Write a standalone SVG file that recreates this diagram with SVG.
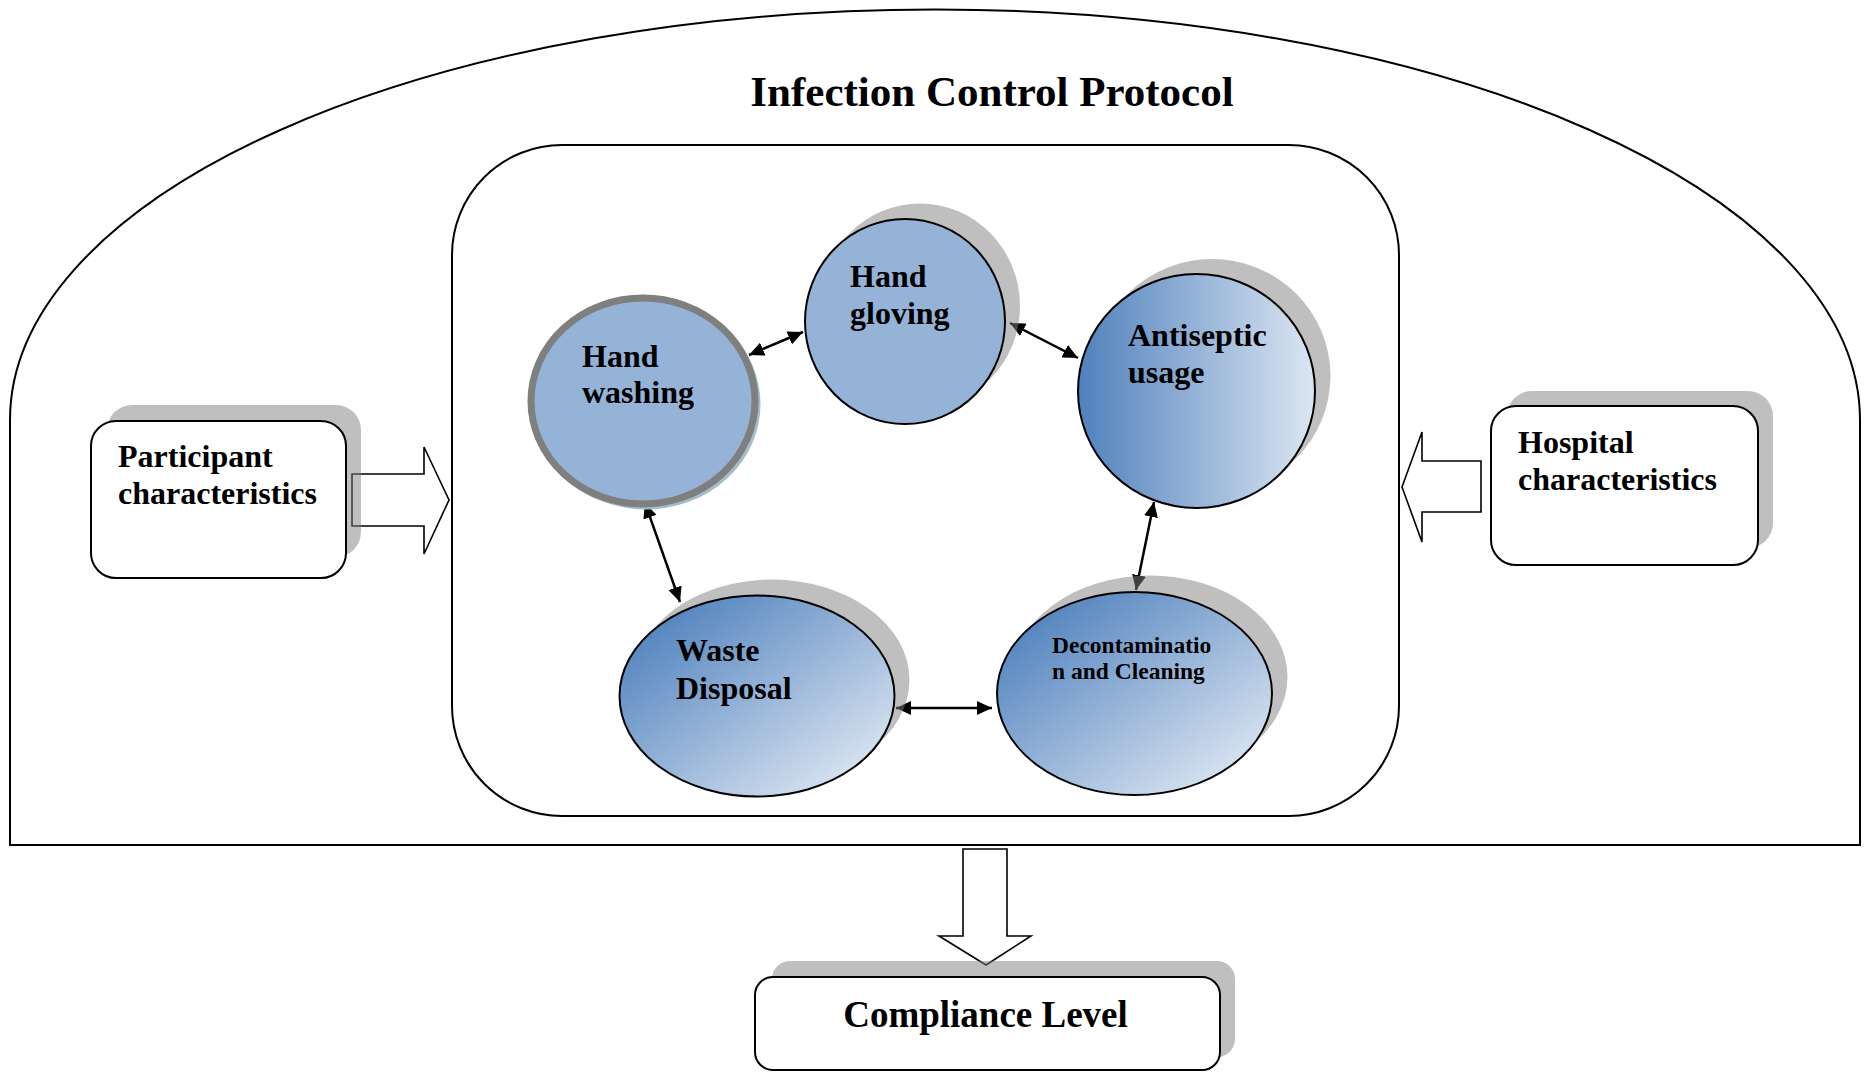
<svg xmlns="http://www.w3.org/2000/svg" width="1865" height="1072" viewBox="0 0 1865 1072">
  <defs>
    <linearGradient id="gradH" x1="0" y1="0" x2="1" y2="0">
      <stop offset="0" stop-color="#4F81BD"/>
      <stop offset="1" stop-color="#DCE6F2"/>
    </linearGradient>
    <linearGradient id="gradD" x1="0.1" y1="0.1" x2="0.9" y2="0.9">
      <stop offset="0" stop-color="#4F81BD"/>
      <stop offset="1" stop-color="#DCE6F2"/>
    </linearGradient>
    <marker id="head" markerUnits="userSpaceOnUse" markerWidth="16" markerHeight="14" refX="15" refY="7" orient="auto-start-reverse">
      <path d="M0,0 L15,7 L0,14 Z" fill="#000"/>
    </marker>
  </defs>
  <style>
    .lbl { font-family: "Liberation Serif", "Times New Roman", serif; font-weight: bold; fill: #000; }
    .shadow { fill: #808080; fill-opacity: 0.5; }
    .box { fill: #fff; stroke: #000; stroke-width: 2; }
    .bubble { stroke: #000; stroke-width: 2; }
    .link { stroke: #000; stroke-width: 2.5; fill: none; marker-start: url(#head); marker-end: url(#head); }
    .block { fill: #fff; stroke: #000; stroke-width: 1.6; stroke-linejoin: miter; }
  </style>

  <rect width="1865" height="1072" fill="#fff"/>

  <!-- outer protocol frame: arched top over a flat base -->
  <g id="protocol">
    <path d="M10,845 L10,420 A925,410.5 0 0 1 1860,420 L1860,845 Z" fill="none" stroke="#000" stroke-width="2"/>
    <text class="lbl" x="992" y="106" font-size="43" text-anchor="middle">Infection Control Protocol</text>
  </g>

  <!-- inner rounded panel holding the five practices -->
  <g id="practices-panel">
    <rect x="452" y="145" width="947" height="671" rx="110" ry="110" fill="none" stroke="#000" stroke-width="2"/>
  </g>

  <!-- block arrows feeding into / out of the protocol -->
  <g id="block-arrows">
    <polygon class="block" points="352,474 424,474 424,447 449,500 424,554 424,526 352,526"/>
    <polygon class="block" points="1481,461 1422,461 1422,432 1402,487 1422,542 1422,512 1481,512"/>
    <polygon class="block" points="963,849 1007,849 1007,936 1031,936 986,965 939,936 963,936"/>
  </g>

  <!-- double-headed links between practices -->
  <g id="connectors">
    <line class="link" x1="749" y1="355" x2="803" y2="332"/>
    <line class="link" x1="1010" y1="323" x2="1078" y2="358"/>
    <line class="link" x1="1154" y1="502" x2="1136" y2="590"/>
    <line class="link" x1="896" y1="708" x2="992" y2="708"/>
    <line class="link" x1="645" y1="503" x2="680" y2="602"/>
  </g>

  <g id="hand-washing">
    <ellipse cx="646" cy="404" rx="112" ry="103" fill="none" stroke="#A3BECB" stroke-width="5"/>
    <ellipse cx="643" cy="401" rx="112" ry="103" fill="#95B3D7" stroke="#7F7F7F" stroke-width="7"/>
    <text class="lbl" font-size="32"><tspan x="582" y="367">Hand</tspan><tspan x="582" y="403">washing</tspan></text>
  </g>

  <g id="hand-gloving">
    <ellipse class="shadow" cx="920" cy="306" rx="100" ry="102.5"/>
    <ellipse class="bubble" cx="905" cy="321.5" rx="100" ry="102.5" fill="#95B3D7"/>
    <text class="lbl" font-size="32"><tspan x="850" y="287">Hand</tspan><tspan x="850" y="324">gloving</tspan></text>
  </g>

  <g id="antiseptic-usage">
    <ellipse class="shadow" cx="1212" cy="376" rx="118.5" ry="117"/>
    <ellipse class="bubble" cx="1196.5" cy="391" rx="118.5" ry="117" fill="url(#gradH)"/>
    <text class="lbl" font-size="32"><tspan x="1128" y="346">Antiseptic</tspan><tspan x="1128" y="383">usage</tspan></text>
  </g>

  <g id="waste-disposal">
    <ellipse class="shadow" cx="772" cy="680" rx="137.5" ry="100.5"/>
    <ellipse class="bubble" cx="757" cy="696" rx="137.5" ry="100.5" fill="url(#gradD)"/>
    <text class="lbl" font-size="32"><tspan x="676" y="661">Waste</tspan><tspan x="676" y="699">Disposal</tspan></text>
  </g>

  <g id="decontamination">
    <ellipse class="shadow" cx="1150" cy="677" rx="137.5" ry="101.5"/>
    <ellipse class="bubble" cx="1134.5" cy="693.5" rx="137.5" ry="101.5" fill="url(#gradD)"/>
    <text class="lbl" font-size="23.5"><tspan x="1052" y="653">Decontaminatio</tspan><tspan x="1052" y="679">n and Cleaning</tspan></text>
  </g>

  <g id="participant-characteristics">
    <rect class="shadow" x="107" y="405" width="254" height="152" rx="25"/>
    <rect class="box" x="91" y="421" width="255" height="157" rx="25"/>
    <text class="lbl" font-size="32"><tspan x="118" y="467">Participant</tspan><tspan x="118" y="504">characteristics</tspan></text>
  </g>

  <g id="hospital-characteristics">
    <rect class="shadow" x="1507" y="391" width="266" height="157" rx="25"/>
    <rect class="box" x="1491" y="406" width="267" height="159" rx="25"/>
    <text class="lbl" font-size="32"><tspan x="1518" y="453">Hospital</tspan><tspan x="1518" y="490">characteristics</tspan></text>
  </g>

  <g id="compliance-level">
    <rect class="shadow" x="772" y="961" width="463" height="96" rx="18"/>
    <rect class="box" x="755" y="977" width="465" height="93" rx="18"/>
    <text class="lbl" x="985.5" y="1027" font-size="37" text-anchor="middle">Compliance Level</text>
  </g>
</svg>
